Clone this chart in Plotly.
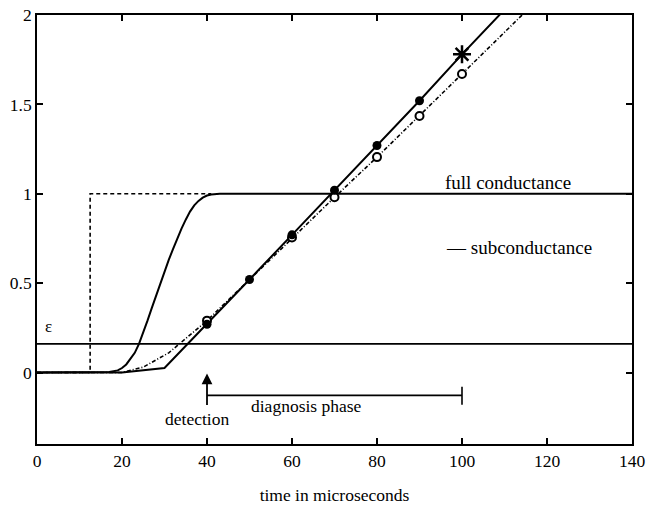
import plotly.graph_objects as go

# ---- data ----
full_t = [0, 12.5, 12.5, 41]
full_v = [0, 0, 1, 1]

sig_t = [0, 15, 17, 19, 20, 21, 22, 23, 24, 25, 26, 27, 28, 29, 30, 31, 32, 33, 34, 35, 36, 37, 38, 39, 40, 41, 42, 43, 140]
sig_v = [0, 0, 0.003, 0.012, 0.025, 0.045, 0.075, 0.11, 0.16, 0.22, 0.29, 0.36, 0.43, 0.5, 0.565, 0.63, 0.69, 0.75, 0.805, 0.855, 0.9, 0.935, 0.96, 0.978, 0.99, 0.996, 1.0, 1.0, 1.0]

sub_t = [0, 20, 30, 40, 50, 60, 70, 80, 90, 100, 110]
sub_v = [0, 0, 0.025, 0.27, 0.52, 0.77, 1.02, 1.27, 1.52, 1.78, 2.03]

dd_t = [0, 20, 25, 31, 40, 50, 60, 70, 80, 90, 100, 115]
dd_v = [0, 0, 0.03, 0.11, 0.29, 0.52, 0.755, 0.98, 1.205, 1.435, 1.67, 2.02]

filled_t = [40, 50, 60, 70, 80, 90]
filled_v = [0.27, 0.52, 0.77, 1.02, 1.27, 1.52]
star_t = [100]
star_v = [1.78]
open_t = [40, 60, 70, 80, 90, 100]
open_v = [0.29, 0.755, 0.98, 1.205, 1.435, 1.67]

eps_t = [0, 140]
eps_v = [0.16, 0.16]

diag_t = [40, 100]
diag_v = [-0.128, -0.128]
diag_end_t = [100, 100]
diag_end_v = [-0.08, -0.18]

x_ticks = [0, 20, 40, 60, 80, 100, 120, 140]
y_ticks = [0, 0.5, 1, 1.5, 2]
y_tick_text = ["0", "0.5", "1", "1.5", "2"]

FONT = "Liberation Serif"
BLACK = "#000000"

fig = go.Figure()
fig.add_trace(go.Scatter(x=full_t, y=full_v, mode="lines",
                         line=dict(color=BLACK, width=1.6, dash="4px,3px")))
fig.add_trace(go.Scatter(x=sig_t, y=sig_v, mode="lines",
                         line=dict(color=BLACK, width=2)))
fig.add_trace(go.Scatter(x=dd_t, y=dd_v, mode="lines",
                         line=dict(color=BLACK, width=1.6, dash="4px,2px,1px,2px")))
fig.add_trace(go.Scatter(x=sub_t, y=sub_v, mode="lines",
                         line=dict(color=BLACK, width=2)))
fig.add_trace(go.Scatter(x=eps_t, y=eps_v, mode="lines",
                         line=dict(color=BLACK, width=1.6)))
fig.add_trace(go.Scatter(x=open_t, y=open_v, mode="markers",
                         marker=dict(symbol="circle", size=8, color="white",
                                     line=dict(color=BLACK, width=2))))
fig.add_trace(go.Scatter(x=filled_t, y=filled_v, mode="markers",
                         marker=dict(symbol="circle", size=9, color=BLACK)))
fig.add_trace(go.Scatter(x=star_t, y=star_v, mode="markers",
                         marker=dict(symbol="asterisk-open", size=15, color=BLACK,
                                     line=dict(color=BLACK, width=2.5))))
fig.add_trace(go.Scatter(x=diag_t, y=diag_v, mode="lines",
                         line=dict(color=BLACK, width=1.6)))
fig.add_trace(go.Scatter(x=diag_end_t, y=diag_end_v, mode="lines",
                         line=dict(color=BLACK, width=1.6)))

ann_font = dict(family=FONT, size=17.5, color=BLACK)
lbl_font = dict(family=FONT, size=19, color=BLACK)
fig.add_annotation(x=40, y=-0.005, ax=40, ay=-0.19, xref="x", yref="y",
                   axref="x", ayref="y", showarrow=True, arrowhead=2,
                   arrowsize=1.2, arrowwidth=1.8, arrowcolor=BLACK, text="")
fig.add_annotation(x=37.6, y=-0.26, text="detection", showarrow=False, font=ann_font)
fig.add_annotation(x=49.8, y=-0.19, text="diagnosis phase", showarrow=False,
                   font=ann_font, xanchor="left")
fig.add_annotation(x=95.5, y=1.065, text="full conductance", showarrow=False,
                   font=lbl_font, xanchor="left")
fig.add_annotation(x=95.8, y=0.70, text="— subconductance", showarrow=False,
                   font=lbl_font, xanchor="left")
fig.add_annotation(x=2.6, y=0.26, text="ε", showarrow=False,
                   font=dict(family=FONT, size=17, color=BLACK))

fig.update_layout(
    width=646, height=505,
    margin=dict(l=37, r=14, t=15, b=61),
    paper_bgcolor="white", plot_bgcolor="white",
    showlegend=False,
    font=dict(family=FONT, size=17.5, color=BLACK),
)
fig.update_xaxes(range=[0, 140], tickvals=x_ticks, ticks="inside", ticklen=6,
                 tickcolor=BLACK, tickwidth=1.5, automargin=False,
                 showline=True, linecolor=BLACK, linewidth=1.6, mirror="ticks",
                 showgrid=False, zeroline=False,
                 title=dict(text="time in microseconds", standoff=19,
                            font=dict(family=FONT, size=17.5, color=BLACK)))
fig.update_yaxes(range=[-0.4, 2], tickvals=y_ticks, ticktext=y_tick_text,
                 ticks="inside", ticklen=6, tickcolor=BLACK, tickwidth=1.5,
                 automargin=False,
                 showline=True, linecolor=BLACK, linewidth=1.6, mirror="ticks",
                 showgrid=False, zeroline=False)

fig.write_html("out.html")
